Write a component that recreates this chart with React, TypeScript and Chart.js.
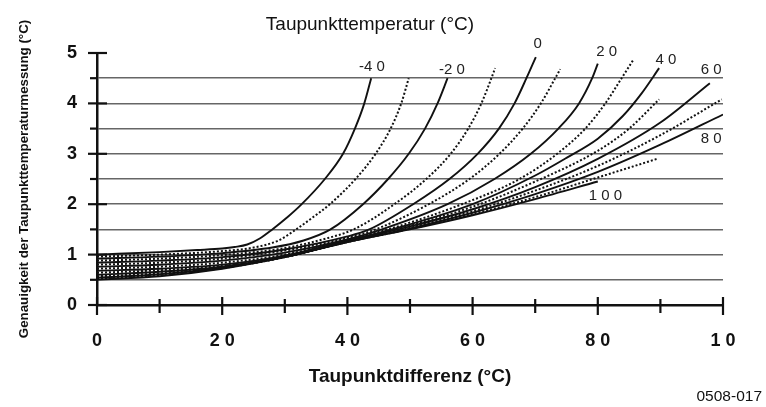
import React, { useEffect, useRef } from "react";
import { Chart, registerables } from "chart.js";

Chart.register(...registerables);

// Dew point temperatures (°C) of the curve family
const temperatures = [-40, -30, -20, -10, 0, 10, 20, 30, 40, 50, 60, 70, 80, 90, 100];

// Each curve: [dew point difference (°C), accuracy (°C)]
const tempM40 = [[0, 1.0], [10, 1.05], [16, 1.09], [20, 1.12], [22, 1.15], [24, 1.2], [26, 1.32], [28, 1.5], [30.5, 1.75], [32.7, 2.0], [36.4, 2.5], [39.3, 3.0], [41.2, 3.5], [42.7, 4.0], [43.8, 4.5]];
const tempM30 = [[0, 0.96], [10, 1.0], [20, 1.07], [25, 1.14], [29, 1.28], [31.8, 1.5], [34.6, 1.75], [37.2, 2.0], [41.3, 2.5], [44.5, 3.0], [46.9, 3.5], [48.6, 4.0], [49.8, 4.5]];
const tempM20 = [[0, 0.92], [10, 0.96], [20, 1.03], [28, 1.14], [33, 1.28], [37.3, 1.5], [42.5, 2.0], [46.5, 2.5], [49.8, 3.0], [52.4, 3.5], [54.4, 4.0], [56, 4.5]];
const tempM10 = [[0, 0.88], [10, 0.92], [20, 0.99], [30, 1.13], [36, 1.3], [41, 1.5], [47.5, 2.0], [52.6, 2.5], [56.5, 3.0], [59.3, 3.5], [61.4, 4.0], [63, 4.5], [63.6, 4.7]];
const temp0 = [[0, 0.84], [10, 0.88], [20, 0.95], [30, 1.1], [40, 1.36], [43.5, 1.5], [50.5, 2.0], [56.3, 2.5], [60.8, 3.0], [64.2, 3.5], [66.7, 4.0], [68.6, 4.5], [70.1, 4.92]];
const temp10 = [[0, 0.8], [10, 0.84], [20, 0.92], [30, 1.08], [40, 1.33], [44.5, 1.5], [53, 2.0], [59.5, 2.5], [64.3, 3.0], [68, 3.5], [70.9, 4.0], [73.2, 4.5], [74, 4.68]];
const temp20 = [[0, 0.76], [10, 0.8], [20, 0.88], [30, 1.04], [40, 1.3], [45.5, 1.5], [56, 2.0], [63.5, 2.5], [69.3, 3.0], [73.7, 3.5], [77, 4.0], [79.1, 4.5], [80, 4.79]];
const temp30 = [[0, 0.72], [10, 0.76], [20, 0.84], [30, 1.0], [40, 1.3], [47, 1.52], [58.3, 2.0], [67.5, 2.5], [73.5, 3.0], [78, 3.5], [81.2, 4.0], [83.8, 4.5], [85.6, 4.85]];
const temp40 = [[0, 0.68], [10, 0.72], [20, 0.8], [30, 0.98], [40, 1.28], [50, 1.6], [60, 2.0], [70, 2.57], [75, 2.92], [80, 3.3], [84, 3.75], [87, 4.2], [89.8, 4.7]];
const temp50 = [[0, 0.64], [10, 0.69], [20, 0.78], [30, 0.97], [40, 1.27], [50, 1.58], [60, 1.95], [70, 2.45], [80, 3.06], [85, 3.5], [89.8, 4.08]];
const temp60 = [[0, 0.6], [10, 0.66], [20, 0.76], [30, 0.96], [40, 1.26], [50, 1.56], [60, 1.9], [70, 2.34], [80, 2.9], [90, 3.62], [97.9, 4.4]];
const temp70 = [[0, 0.57], [10, 0.63], [20, 0.75], [30, 0.95], [40, 1.26], [50, 1.54], [60, 1.86], [70, 2.27], [80, 2.76], [90, 3.37], [99.8, 4.08]];
const temp80 = [[0, 0.54], [10, 0.61], [20, 0.74], [30, 0.95], [40, 1.25], [50, 1.52], [60, 1.83], [70, 2.2], [80, 2.64], [90, 3.18], [100, 3.78]];
const temp90 = [[0, 0.52], [10, 0.59], [20, 0.73], [30, 0.95], [40, 1.25], [50, 1.51], [60, 1.8], [70, 2.14], [80, 2.53], [89.5, 2.9]];
const temp100 = [[0, 0.5], [10, 0.57], [20, 0.72], [30, 0.95], [40, 1.25], [50, 1.5], [60, 1.78], [70, 2.1], [80, 2.45]];

const curves = [tempM40, tempM30, tempM20, tempM10, temp0, temp10, temp20, temp30, temp40, temp50, temp60, temp70, temp80, temp90, temp100];

// Tick labels as printed
const xTickLabels = ["0", "2 0", "4 0", "6 0", "8 0", "1 0"];
const yTickLabels = ["0", "1", "2", "3", "4", "5"];

// Curve labels as printed
const curveLabelTexts = ["-4 0", "-2 0", "0", "2 0", "4 0", "6 0", "8 0", "1 0 0"];
// label anchors (data units)
const curveLabelAnchors = [[43.9, 4.73], [56.7, 4.67], [70.4, 5.18], [81.4, 5.03], [90.9, 4.87], [98.1, 4.67], [98.1, 3.29], [81.2, 2.16]];

const chartTitle = "Taupunkttemperatur (°C)";
const xTitle = "Taupunktdifferenz (°C)";
const yTitle = "Genauigkeit der Taupunkttemperaturmessung (°C)";
const figureCode = "0508-017";

const FONT = "'Liberation Sans', Arial, Helvetica, sans-serif";

const decorPlugin = {
  id: "decor",
  afterDraw(chart: any) {
    const ctx = chart.ctx;
    const xs = chart.scales.x;
    const ys = chart.scales.y;
    const axisY = ys.getPixelForValue(0);
    const axisX = xs.getPixelForValue(0);
    ctx.save();
    ctx.strokeStyle = "#111";
    ctx.lineWidth = 2.2;
    // x tick marks crossing the axis
    xs.ticks.forEach((t: any) => {
      const px = xs.getPixelForValue(t.value);
      const major = Math.round(t.value) % 20 === 0;
      ctx.beginPath();
      ctx.moveTo(px, axisY - (major ? 8 : 6));
      ctx.lineTo(px, axisY + (major ? 10 : 8));
      ctx.stroke();
    });
    // y tick marks
    ys.ticks.forEach((t: any) => {
      const py = ys.getPixelForValue(t.value);
      const major = Number.isInteger(t.value);
      ctx.beginPath();
      ctx.moveTo(axisX - (major ? 9 : 7), py);
      ctx.lineTo(axisX + (major ? 10 : 0), py);
      ctx.stroke();
    });
    // curve labels
    ctx.fillStyle = "#222";
    ctx.font = `15px ${FONT}`;
    ctx.textAlign = "center";
    ctx.textBaseline = "middle";
    curveLabelTexts.forEach((txt, i) => {
      const [vx, vy] = curveLabelAnchors[i];
      ctx.fillText(txt, xs.getPixelForValue(vx), ys.getPixelForValue(vy));
    });
    // top title
    ctx.fillStyle = "#111";
    ctx.font = `19px ${FONT}`;
    ctx.textAlign = "center";
    ctx.textBaseline = "alphabetic";
    ctx.fillText(chartTitle, xs.getPixelForValue(43.6), 30);
    // figure code
    ctx.font = `15.5px ${FONT}`;
    ctx.textAlign = "right";
    ctx.fillText(figureCode, chart.width - 4, 401);
    ctx.restore();
  },
};

export default function App() {
  const ref = useRef<HTMLCanvasElement>(null);
  useEffect(() => {
    if (!ref.current) return;
    const datasets = curves.map((pts, i) => {
      const dashed = Math.abs(temperatures[i]) % 20 === 10;
      return {
        label: `${temperatures[i]} °C`,
        data: pts.map(([x, y]) => ({ x, y })),
        borderColor: "#111",
        borderWidth: dashed ? 2 : 1.9,
        borderDash: dashed ? [2, 2] : [],
        pointRadius: 0,
        cubicInterpolationMode: "monotone" as const,
        fill: false,
      };
    });
    const chart = new Chart(ref.current, {
      type: "line",
      data: { datasets },
      plugins: [decorPlugin],
      options: {
        animation: false,
        responsive: false,
        devicePixelRatio: 1,
        layout: { padding: { left: 0, right: 43, top: 53, bottom: 0 } },
        plugins: { legend: { display: false }, tooltip: { enabled: false } },
        scales: {
          x: {
            type: "linear",
            min: 0,
            max: 100,
            afterFit: (s: any) => { s.height = 102; },
            ticks: {
              stepSize: 10,
              autoSkip: false,
              maxRotation: 0,
              padding: 25,
              color: "#111",
              font: { family: FONT, size: 18, weight: "bold" },
              callback: (v: any) => (Math.round(v) % 20 === 0 ? xTickLabels[Math.round(v) / 20] : ""),
            },
            grid: { display: false, drawTicks: false },
            border: { display: true, color: "#111", width: 2.5 },
            title: {
              display: true,
              text: xTitle,
              color: "#111",
              font: { family: FONT, size: 19, weight: "bold" },
              padding: { top: 0, bottom: 19 },
            },
          },
          y: {
            type: "linear",
            min: 0,
            max: 5,
            afterFit: (s: any) => { s.width = 97; },
            ticks: {
              stepSize: 0.5,
              autoSkip: false,
              padding: 20,
              color: "#111",
              font: { family: FONT, size: 18, weight: "bold" },
              callback: (v: any) => (Number.isInteger(v) ? yTickLabels[v] : ""),
            },
            grid: {
              drawTicks: false,
              lineWidth: 1.6,
              color: (c: any) =>
                c.tick && (c.tick.value === 0 || c.tick.value === 5) ? "rgba(0,0,0,0)" : "#666666",
            },
            border: { display: true, color: "#111", width: 2.5 },
            title: {
              display: true,
              text: yTitle,
              color: "#111",
              font: { family: FONT, size: 13.3, weight: "bold" },
              padding: { top: 16, bottom: 0 },
            },
          },
        },
      },
    } as any);
    return () => chart.destroy();
  }, []);
  return (
    <div style={{ position: "absolute", left: 0, top: 0, width: 766, height: 407, background: "#fff" }}>
      <canvas ref={ref} width={766} height={407} style={{ display: "block" }} />
    </div>
  );
}
